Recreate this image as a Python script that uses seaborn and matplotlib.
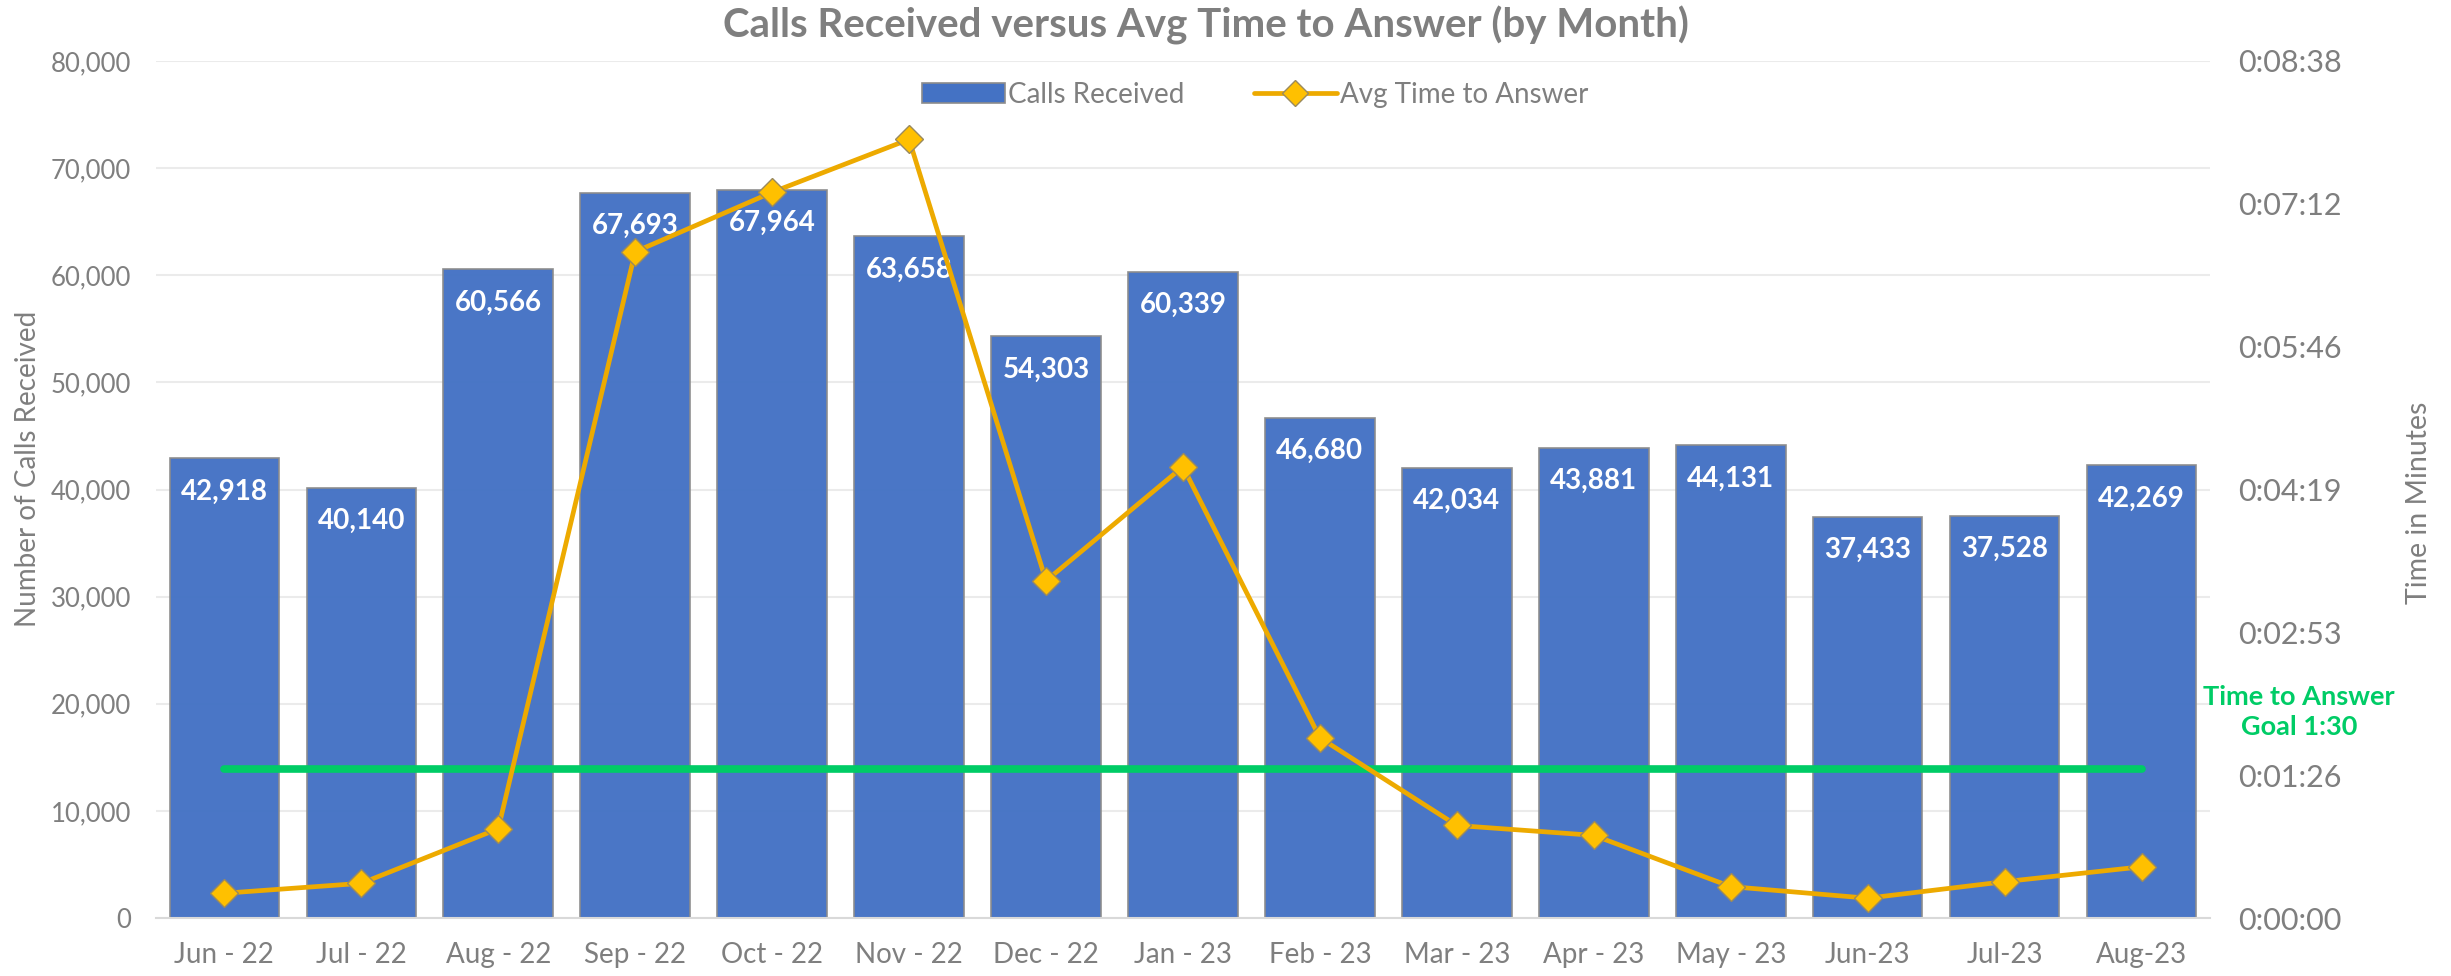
import numpy as np
import pandas as pd
import matplotlib
matplotlib.use('Agg')
import matplotlib.pyplot as plt
import matplotlib.ticker as mticker
from matplotlib.patches import Patch
from matplotlib.lines import Line2D
import seaborn as sns

# data
months = ['Jun - 22', 'Jul - 22', 'Aug - 22', 'Sep - 22', 'Oct - 22', 'Nov - 22', 'Dec - 22',
          'Jan - 23', 'Feb - 23', 'Mar - 23', 'Apr - 23', 'May - 23', 'Jun-23', 'Jul-23', 'Aug-23']
calls_received = [42918, 40140, 60566, 67693, 67964, 63658, 54303, 60339,
                  46680, 42034, 43881, 44131, 37433, 37528, 42269]
avg_answer_sec = [15, 21, 54, 403, 439, 471, 204, 273, 109, 56, 50, 19, 12, 22, 31]   # seconds
goal_sec = 90

df = pd.DataFrame({'month': months, 'calls': calls_received, 'avg_sec': avg_answer_sec})
df['pos'] = np.arange(len(df))

sns.set_theme(style='white')
plt.rcParams['font.family'] = ['Lato', 'DejaVu Sans']

GRAY = '#7F7F7F'
BLUE = '#4472C4'
GOLD_LINE = '#EDAA00'
GOLD_MARK = '#FFC000'
GREEN = '#00CC66'

fig = plt.figure(figsize=(24.51, 9.76), dpi=100)
ax = fig.add_axes([0.0636, 0.0594, 0.8381, 0.8781])

sns.barplot(data=df, x='month', y='calls', color=BLUE, saturation=1, width=0.8,
            edgecolor='#8C8C8C', linewidth=1.2, alpha=0.97, ax=ax)

# value labels inside the bars, near the top
for p, v in zip(df['pos'], df['calls']):
    ax.annotate(f'{v:,}', xy=(p, v), xytext=(0, -24), textcoords='offset points',
                ha='center', va='center', color='white', fontweight='bold', fontsize=20)

ax.set_xlim(-0.5, len(df) - 0.5)
ax.set_ylim(0, 80000)
ax.yaxis.set_major_locator(mticker.MultipleLocator(10000))
ax.yaxis.set_major_formatter(mticker.FuncFormatter(lambda v, p: f'{int(v):,}'))
ax.yaxis.grid(True, color='#EBEBEB', lw=1.5)
ax.set_axisbelow(True)
ax.set_xlabel('')
ax.set_ylabel('')
for s in ['top', 'left', 'right']:
    ax.spines[s].set_visible(False)
ax.spines['bottom'].set_color('#D9D9D9')
ax.spines['bottom'].set_linewidth(1.5)
ax.set_xticks(df['pos'])
ax.set_xticklabels(months)
ax.set_xticks(np.arange(-0.5, len(df), 1), minor=True)
ax.tick_params(axis='x', which='major', length=0, pad=17, labelsize=20, labelcolor=GRAY)
ax.tick_params(axis='x', which='minor', length=9, width=1.5, color='#D9D9D9', direction='out')
ax.tick_params(axis='y', length=0, pad=18, labelsize=18.5, labelcolor=GRAY)

# second axis: average time to answer
ax2 = ax.twinx()
sns.lineplot(data=df, x='pos', y='avg_sec', color=GOLD_LINE, lw=3.4, marker='D',
             markersize=14, markerfacecolor=GOLD_MARK, markeredgecolor='#9A8A5E',
             markeredgewidth=1, ax=ax2, zorder=4)
ax2.plot([df['pos'].iloc[0], df['pos'].iloc[-1]], [goal_sec, goal_sec], color=GREEN,
         lw=5.5, solid_capstyle='round', zorder=3)

ax2.set_ylim(0, 518.4)
ax2.set_xlim(-0.5, len(df) - 0.5)
ax2.yaxis.set_major_locator(mticker.MultipleLocator(86.4))


def hms(v, pos):
    s = int(round(v))
    return f'{s // 3600}:{s % 3600 // 60:02d}:{s % 60:02d}'


ax2.yaxis.set_major_formatter(mticker.FuncFormatter(hms))
ax2.tick_params(axis='y', length=0, pad=20, labelsize=22, labelcolor=GRAY)
ax2.set_ylabel('')
ax2.set_xlabel('')
for s in ax2.spines.values():
    s.set_visible(False)

# titles and labels
fig.text(0.492, 0.974, 'Calls Received versus Avg Time to Answer (by Month)', ha='center',
         va='center', fontsize=29, fontweight='bold', color=GRAY)
fig.text(0.0114, 0.52, 'Number of Calls Received', rotation=90, ha='center', va='center',
         fontsize=20, color=GRAY)
fig.text(0.987, 0.485, 'Time in Minutes', rotation=90, ha='center', va='center',
         fontsize=20.5, color=GRAY)
fig.text(0.938, 0.271, 'Time to Answer\nGoal 1:30', ha='center', va='center', fontsize=19.5,
         fontweight='bold', color=GREEN, linespacing=1.3)

handles = [Patch(facecolor=BLUE, edgecolor='#8C8C8C', lw=1.2),
           Line2D([], [], color=GOLD_LINE, lw=3.4, marker='D', markersize=13,
                  markerfacecolor=GOLD_MARK, markeredgecolor='#9A8A5E')]
fig.legend(handles, ['Calls Received', 'Avg Time to Answer'], loc='center',
           bbox_to_anchor=(0.512, 0.903), ncol=2, frameon=False, fontsize=20,
           handlelength=3.0, handletextpad=0.1, columnspacing=2.5, labelcolor=GRAY)

fig.savefig('out.png', dpi=100)
